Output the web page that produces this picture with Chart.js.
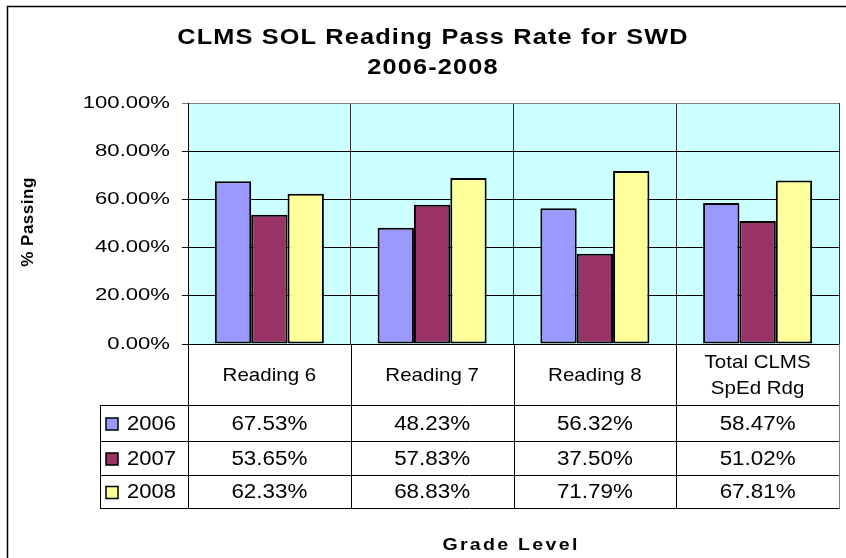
<!DOCTYPE html>
<html>
<head>
<meta charset="utf-8">
<script src="https://cdn.jsdelivr.net/npm/chart.js@4/dist/chart.umd.min.js"></script>
<style>
  html, body { margin: 0; padding: 0; background: #fff; }
  canvas { display: block; }
</style>
</head>
<body>
<canvas id="chart" width="846" height="558"></canvas>
<script>
const categories = ['Reading 6', 'Reading 7', 'Reading 8', ['Total CLMS', 'SpEd Rdg']];
const years = ['2006', '2007', '2008'];
const pass2006 = [67.53, 48.23, 56.32, 58.47];
const pass2007 = [53.65, 57.83, 37.50, 51.02];
const pass2008 = [62.33, 68.83, 71.79, 67.81];
const yTicks = [0, 20, 40, 60, 80, 100];
const colors = ['#9999FF', '#993366', '#FFFF99'];

const FONT = '"Liberation Sans", Arial, sans-serif';

// draw text, optionally stretched / letter spaced / rotated
function txt(ctx, s, x, y, o) {
  ctx.save();
  ctx.font = o.font;
  ctx.fillStyle = '#000';
  ctx.textAlign = o.align || 'center';
  ctx.textBaseline = 'middle';
  if (o.ls) ctx.letterSpacing = o.ls;
  ctx.translate(x, y);
  if (o.rot) ctx.rotate(o.rot);
  ctx.scale(o.sx || 1, 1);
  ctx.fillText(s, 0, 0);
  ctx.restore();
}

const tablePlugin = {
  id: 'tablePlugin',
  beforeDraw(chart) {
    const ctx = chart.ctx;
    const a = chart.chartArea;
    ctx.save();
    ctx.fillStyle = '#fff';
    ctx.fillRect(0, 0, chart.width, chart.height);
    ctx.fillStyle = '#CCFFFF';
    ctx.fillRect(a.left, a.top, a.right - a.left, a.bottom - a.top);
    ctx.restore();
  },
  afterDraw(chart) {
    const ctx = chart.ctx;
    const a = chart.chartArea;
    const xs = chart.scales.x;
    const ys = chart.scales.y;
    const n = categories.length;
    const cw = (a.right - a.left) / n;
    const rows = [405, 441, 475, 508];
    const legLeft = 100;

    // outer frame
    ctx.save();
    ctx.strokeStyle = '#000';
    ctx.lineWidth = 1.5;
    ctx.beginPath();
    ctx.moveTo(7.5, chart.height);
    ctx.lineTo(7.5, 6.5);
    ctx.lineTo(chart.width, 6.5);
    ctx.stroke();

    // table lines
    ctx.lineWidth = 1;
    ctx.strokeStyle = '#000';
    ctx.beginPath();
    for (let i = 0; i < n; i++) {
      const x = Math.round(xs.getPixelForValue(i) - cw / 2) + 0.5;
      ctx.moveTo(x, a.bottom);
      ctx.lineTo(x, rows[3]);
    }
    rows.forEach((r) => {
      ctx.moveTo(legLeft, r + 0.5);
      ctx.lineTo(a.right, r + 0.5);
    });
    ctx.moveTo(legLeft + 0.5, rows[0]);
    ctx.lineTo(legLeft + 0.5, rows[3]);
    ctx.stroke();
    ctx.strokeStyle = '#808080';
    ctx.beginPath();
    ctx.moveTo(a.right + 0.5, a.bottom);
    ctx.lineTo(a.right + 0.5, rows[3] + 1);
    ctx.stroke();
    ctx.restore();

    // category labels (header row)
    const hy = (a.bottom + rows[0]) / 2 + 1;
    categories.forEach((c, i) => {
      const cx = xs.getPixelForValue(i);
      const lines = Array.isArray(c) ? c : [c];
      lines.forEach((l, j) => {
        txt(ctx, l, cx, hy + (j - (lines.length - 1) / 2) * 26, {font: '19px ' + FONT, sx: 1.08});
      });
    });

    // data rows with legend keys
    const series = [pass2006, pass2007, pass2008];
    series.forEach((vals, r) => {
      const cy = (rows[r] + rows[r + 1]) / 2 + 1;
      ctx.save();
      ctx.fillStyle = colors[r];
      ctx.strokeStyle = '#000';
      ctx.lineWidth = 1.5;
      ctx.fillRect(106, cy - 6, 12, 12);
      ctx.strokeRect(106, cy - 6, 12, 12);
      ctx.restore();
      txt(ctx, years[r], 127, cy, {font: '20px ' + FONT, sx: 1.1, align: 'left'});
      vals.forEach((v, i) => {
        txt(ctx, v.toFixed(2) + '%', xs.getPixelForValue(i), cy, {font: '20px ' + FONT, sx: 1.12});
      });
    });

    // y tick labels
    yTicks.forEach((t) => {
      txt(ctx, t.toFixed(2) + '%', 170, ys.getPixelForValue(t), {font: '17px ' + FONT, sx: 1.3, align: 'right'});
    });

    // titles
    txt(ctx, 'CLMS SOL Reading Pass Rate for SWD', 433, 38, {font: 'bold 22px ' + FONT, ls: '1px', sx: 1.15});
    txt(ctx, '2006-2008', 433, 68, {font: 'bold 22px ' + FONT, ls: '1px', sx: 1.15});
    txt(ctx, '% Passing', 28, 222, {font: 'bold 17px ' + FONT, ls: '0.5px', rot: -Math.PI / 2});
    txt(ctx, 'Grade Level', 511, 545, {font: 'bold 17px ' + FONT, ls: '2px', sx: 1.15});
  }
};

new Chart(document.getElementById('chart'), {
  type: 'bar',
  plugins: [tablePlugin],
  data: {
    labels: categories,
    datasets: years.map((y, i) => ({
      label: y,
      data: [pass2006, pass2007, pass2008][i],
      backgroundColor: colors[i],
      borderColor: '#000',
      borderWidth: 2,
      borderSkipped: false,
      categoryPercentage: 0.67,
      barPercentage: 1
    }))
  },
  options: {
    responsive: false,
    animation: false,
    devicePixelRatio: 1,
    events: [],
    layout: {padding: {left: 0, top: 103, right: 7, bottom: 0}},
    plugins: {
      legend: {display: false},
      title: {display: false},
      tooltip: {enabled: false}
    },
    scales: {
      x: {
        afterFit: (s) => { s.height = 214; },
        ticks: {display: false},
        grid: {
          drawTicks: false,
          color: (c) => (c.index === categories.length ? '#808080' : '#333')
        },
        border: {display: true, color: '#000', width: 1}
      },
      y: {
        min: 0,
        max: 100,
        afterFit: (s) => { s.width = 188; },
        afterBuildTicks: (s) => { s.ticks = yTicks.map((v) => ({value: v})); },
        ticks: {display: false},
        grid: {
          tickLength: 6,
          color: (c) => (c.tick && c.tick.value === 100 ? '#808080' : '#000')
        },
        border: {display: true, color: '#000', width: 1}
      }
    }
  }
});
</script>
</body>
</html>
